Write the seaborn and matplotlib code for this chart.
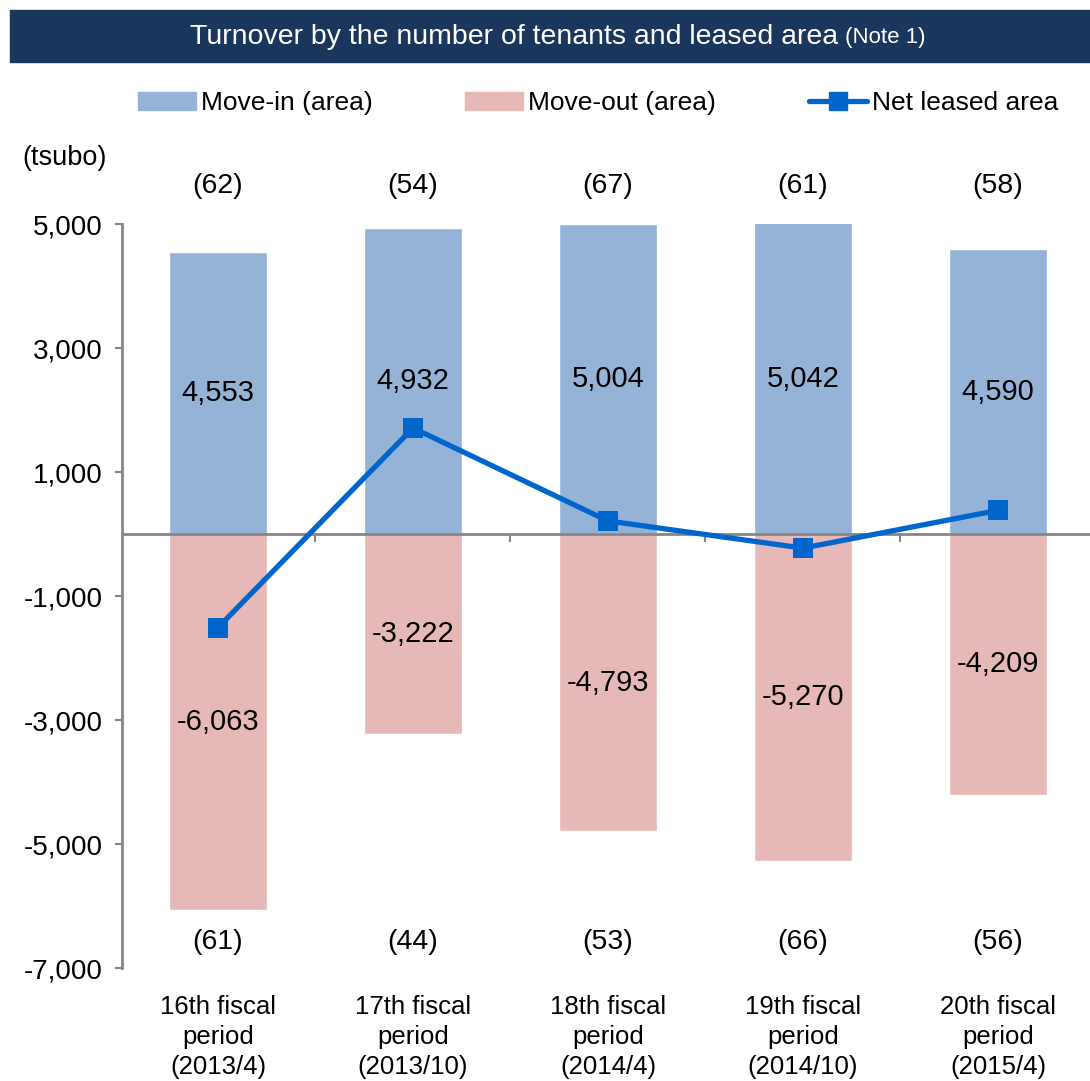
import numpy as np
import pandas as pd
import matplotlib
matplotlib.use("Agg")
import matplotlib.pyplot as plt
import seaborn as sns
from matplotlib.patches import Patch, Rectangle
from matplotlib.lines import Line2D
from matplotlib.ticker import FuncFormatter

sns.set_theme(style="white")
plt.rcParams['font.family'] = ['Liberation Sans', 'DejaVu Sans']
plt.rcParams['text.color'] = 'black'

# data
periods = ["16th fiscal\nperiod\n(2013/4)", "17th fiscal\nperiod\n(2013/10)",
           "18th fiscal\nperiod\n(2014/4)", "19th fiscal\nperiod\n(2014/10)",
           "20th fiscal\nperiod\n(2015/4)"]
move_in = [4553, 4932, 5004, 5042, 4590]
move_out = [-6063, -3222, -4793, -5270, -4209]
tenants_in = [62, 54, 67, 61, 58]
tenants_out = [61, 44, 53, 66, 56]
net_area = [a + b for a, b in zip(move_in, move_out)]
series_names = ["Move-in (area)", "Move-out (area)", "Net leased area"]

C_IN = "#95B3D7"
C_OUT = "#E6B9B8"
C_NET = "#0066CC"
C_AX = "#868686"

df = pd.DataFrame({"period": periods, "in": move_in, "out": move_out, "net": net_area})
pos = np.arange(len(periods))

fig = plt.figure(figsize=(10.9, 10.81), dpi=100)
ax = fig.add_axes([122 / 1090, 1 - 968 / 1081, (1090 - 122) / 1090, (968 - 224) / 1081])

sns.barplot(data=df, x="period", y="in", color=C_IN, saturation=1, width=0.5, ax=ax)
sns.barplot(data=df, x="period", y="out", color=C_OUT, saturation=1, width=0.5, ax=ax)
for cont in ax.containers:
    ax.bar_label(cont, labels=[f"{v:,.0f}" for v in cont.datavalues],
                 label_type="center", fontsize=21, color="black")

ax.axhline(0, color=C_AX, lw=2, zorder=3)
sns.lineplot(x=pos, y=df["net"], color=C_NET, lw=3.8, marker="s", markersize=14.5,
             markeredgewidth=0, ax=ax, zorder=5)

ax.set_ylim(-7000, 5000)
ax.set_xlim(-0.492, 4.472)
ax.set_yticks(np.arange(-7000, 5001, 2000))
ax.yaxis.set_major_formatter(FuncFormatter(lambda v, p: f"{v:,.0f}"))
ax.tick_params(axis="y", left=True, length=5, width=1.5, color=C_AX,
               labelsize=20, pad=9, labelcolor="black")
ax.set_xlabel("")
ax.set_ylabel("")

# x axis: boundary ticks on the zero line, labels at bottom
ax.spines["bottom"].set_position(("data", 0))
ax.spines["bottom"].set_visible(False)
ax.set_xticks(pos[:-1] + 0.5)
ax.set_xticklabels([])
ax.tick_params(axis="x", bottom=True, length=6, width=1.5, color=C_AX, direction="out")
for s in ["top", "right"]:
    ax.spines[s].set_visible(False)
ax.spines["left"].set_color(C_AX)
ax.spines["left"].set_linewidth(2)

tr = ax.get_xaxis_transform()
for i, lab in enumerate(periods):
    ax.text(i, -0.0927, lab, transform=tr, ha="center", va="center",
            fontsize=18.5, linespacing=1.3, clip_on=False)
for i in range(len(periods)):
    ax.text(i, 5613, f"({tenants_in[i]})", ha="center", va="center", fontsize=20.5, clip_on=False)
    ax.text(i, -6581, f"({tenants_out[i]})", ha="center", va="center", fontsize=20.5, clip_on=False)

fig.text(22 / 1090, 1 - 158 / 1081, "(tsubo)", ha="left", va="center", fontsize=19.5)

# title bar
fig.add_artist(Rectangle((10 / 1090, 1 - 62 / 1081), 1, 52 / 1081,
                         transform=fig.transFigure, color="#1B365D", zorder=0))
fig.text(838 / 1090, 1 - 37 / 1081, "Turnover by the number of tenants and leased area",
         ha="right", va="center", fontsize=20.5, color="white")
fig.text(845 / 1090, 1 - 38 / 1081, "(Note 1)", ha="left", va="center",
         fontsize=16, color="white")

handles = [Patch(color=C_IN), Patch(color=C_OUT),
           Line2D([], [], color=C_NET, lw=3.8, marker="s", markersize=13)]
fig.legend(handles, series_names, loc="center", bbox_to_anchor=(598 / 1090, 1 - 103 / 1081),
           ncol=3, frameon=False, fontsize=19, handlelength=2.2, handleheight=0.65,
           handletextpad=0.2, columnspacing=3.5)

fig.savefig("out.png", dpi=100)
